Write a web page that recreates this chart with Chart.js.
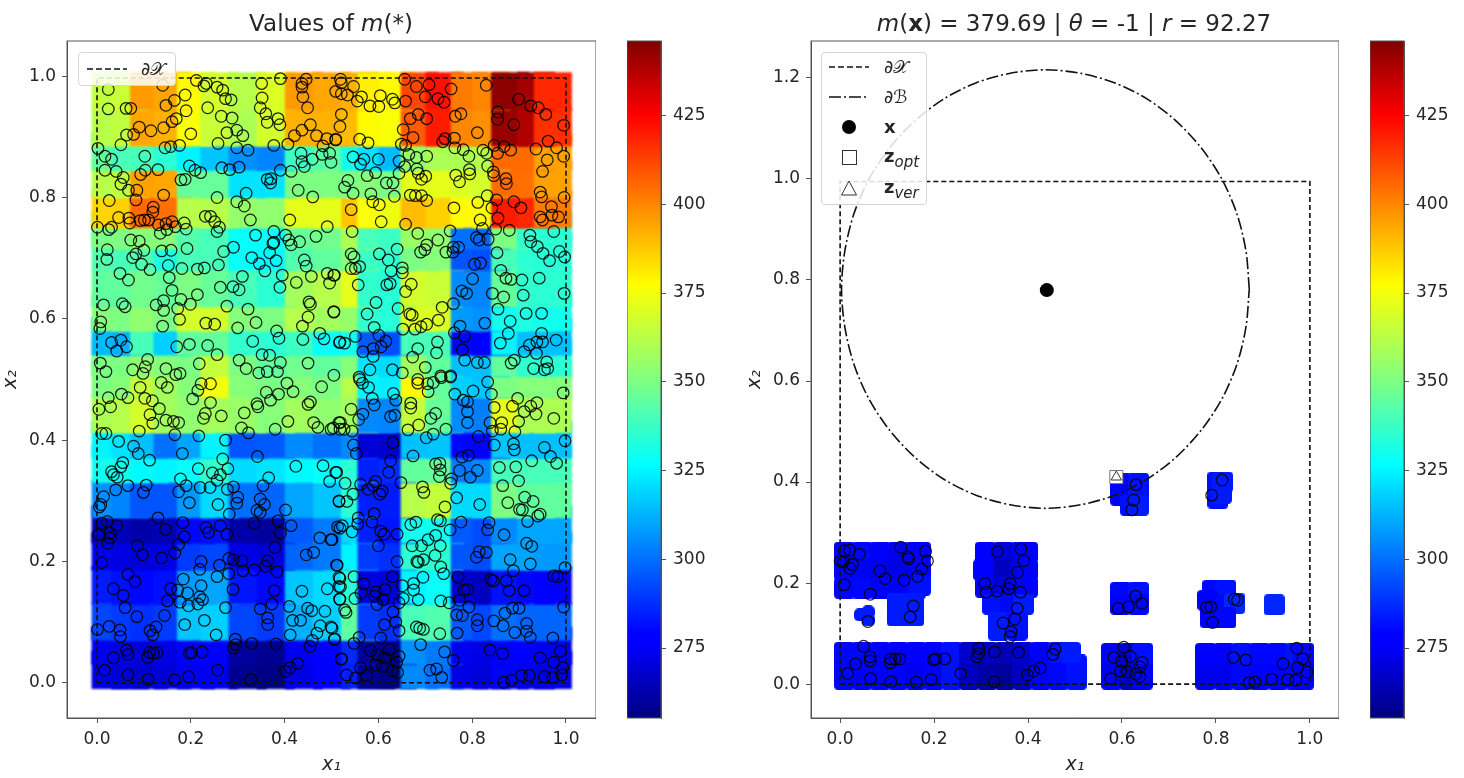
<!DOCTYPE html>
<html>
<head>
<meta charset="utf-8">
<title>Values of m(*)</title>
<script src="https://cdn.jsdelivr.net/npm/chart.js@4/dist/chart.umd.min.js"></script>
<style>
  html, body { margin: 0; background: #fff; overflow: hidden; }
  #page { position: relative; width: 1464px; height: 778px; filter: blur(0.45px); font-family: "DejaVu Sans", sans-serif; color: #262626; }
  canvas { position: absolute; }
  .title { position: absolute; top: 10px; font-size: 23px; white-space: nowrap; transform: translateX(-50%); }
  .legend { position: absolute; background: rgba(255,255,255,0.85); border: 1px solid #d5d5d5; border-radius: 4px; box-sizing: border-box; }
  .legend svg { position: absolute; left: 6px; }
  .legend span { position: absolute; left: 62px; font-size: 18px; white-space: nowrap; line-height: 20px; }
  .legend sub { font-size: 15px; font-style: italic; line-height: 0; }
</style>
</head>
<body>
<div id="page">
  <canvas id="leftPlot" width="596" height="778" style="left:0;top:0"></canvas>
  <canvas id="leftBar" width="94" height="778" style="left:627px;top:0"></canvas>
  <canvas id="rightPlot" width="595" height="778" style="left:744px;top:0"></canvas>
  <canvas id="rightBar" width="94" height="778" style="left:1370px;top:0"></canvas>

  <div class="title" style="left:331px">Values of <i>m</i>(*)</div>
  <div class="title" style="left:1074px"><i>m</i>(<b>x</b>) = 379.69 | <i>θ</i> = -1 | <i>r</i> = 92.27</div>

  <div class="legend" style="left:78px;top:52px;width:98px;height:34px">
    <svg width="44" height="32" style="top:0"><line x1="2" y1="16" x2="42" y2="16" stroke="#111" stroke-width="1.5" stroke-dasharray="6 3"/></svg>
    <span style="top:6px">∂𝒳</span>
  </div>
  <div class="legend" style="left:821px;top:52px;width:106px;height:153px">
    <svg width="44" height="150" style="top:0">
      <line x1="1" y1="14" x2="41" y2="14" stroke="#111" stroke-width="1.5" stroke-dasharray="6 3"/>
      <line x1="1" y1="44" x2="41" y2="44" stroke="#111" stroke-width="1.5" stroke-dasharray="12 3 2 3"/>
      <circle cx="21" cy="74" r="7" fill="#000"/>
      <rect x="14.500" y="97.500" width="14" height="14" fill="#fff" stroke="#333"/>
      <path d="M21 128 L28.500 142 L13.500 142 Z" fill="#fff" stroke="#333"/>
    </svg>
    <span style="top:4px">∂𝒳</span>
    <span style="top:34px">∂ℬ</span>
    <span style="top:64px"><b>x</b></span>
    <span style="top:93px"><b>z</b><sub>opt</sub></span>
    <span style="top:124px"><b>z</b><sub>ver</sub></span>
  </div>
</div>

<script>
// colorbar range and ticks
const colorMin = 255.3;
const colorMax = 446;
const colorTicks = [275, 300, 325, 350, 375, 400, 425];
const unitTicks = [0, 0.2, 0.4, 0.6, 0.8, 1];
const rightYTicks = [0, 0.2, 0.4, 0.6, 0.8, 1, 1.2];

// centres of the heat cells, painted left to right and bottom to top
const heatX = [0.029, 0.071, 0.111, 0.161, 0.211, 0.261, 0.321, 0.381, 0.441, 0.501, 0.561, 0.596, 0.641, 0.688, 0.741, 0.795, 0.841, 0.881, 0.936, 0.972];
const heatY = [0.021, 0.061, 0.101, 0.161, 0.217, 0.261, 0.303, 0.361, 0.401, 0.443, 0.501, 0.536, 0.571, 0.611, 0.651, 0.711, 0.746, 0.781, 0.831, 0.876, 0.916, 0.975];
// m(*), one line per heatY
const heatValues = [
  [272, 270, 268, 270, 274, 274, 258, 256, 272, 276, 285, 258, 256, 305, 300, 272, 270, 276, 274, 272],
  [274, 272, 270, 272, 276, 276, 260, 258, 274, 278, 287, 260, 258, 306, 302, 274, 272, 278, 276, 274],
  [292, 290, 288, 290, 316, 318, 292, 290, 312, 318, 345, 290, 288, 340, 342, 296, 292, 300, 298, 298],
  [284, 282, 280, 282, 308, 310, 283, 280, 316, 320, 335, 272, 270, 325, 328, 268, 266, 282, 280, 278],
  [274, 272, 270, 272, 290, 292, 272, 270, 298, 302, 325, 290, 288, 335, 335, 295, 293, 310, 310, 308],
  [266, 265, 262, 264, 280, 282, 262, 260, 296, 302, 320, 285, 283, 330, 330, 296, 293, 305, 310, 310],
  [306, 304, 295, 295, 308, 320, 300, 298, 310, 316, 335, 285, 284, 362, 365, 320, 320, 350, 345, 345],
  [330, 330, 326, 325, 328, 336, 320, 322, 326, 328, 335, 285, 287, 345, 346, 302, 305, 340, 340, 340],
  [325, 322, 315, 300, 310, 325, 295, 296, 305, 300, 305, 270, 268, 315, 316, 280, 278, 316, 315, 315],
  [360, 362, 368, 358, 354, 358, 356, 352, 358, 354, 358, 305, 304, 365, 346, 305, 303, 372, 360, 360],
  [350, 352, 365, 358, 352, 375, 352, 350, 352, 350, 362, 325, 324, 378, 345, 318, 316, 350, 352, 352],
  [350, 350, 354, 352, 350, 365, 350, 345, 348, 345, 352, 322, 320, 358, 345, 315, 315, 345, 336, 335],
  [314, 312, 340, 318, 345, 345, 336, 335, 338, 328, 330, 296, 294, 340, 340, 280, 278, 325, 315, 315],
  [352, 350, 354, 350, 368, 368, 352, 350, 362, 358, 355, 336, 334, 370, 370, 308, 306, 330, 332, 330],
  [345, 345, 348, 346, 350, 346, 340, 335, 358, 362, 372, 336, 334, 368, 366, 305, 304, 346, 336, 335],
  [342, 340, 342, 332, 340, 340, 328, 326, 342, 345, 352, 338, 336, 350, 352, 295, 294, 340, 335, 334],
  [350, 350, 352, 352, 342, 340, 328, 328, 346, 348, 360, 340, 338, 356, 354, 300, 298, 350, 336, 335],
  [385, 386, 405, 404, 362, 362, 355, 354, 372, 372, 388, 376, 374, 390, 386, 378, 376, 420, 418, 402],
  [362, 364, 395, 394, 346, 346, 322, 322, 350, 350, 350, 352, 350, 372, 372, 370, 368, 405, 404, 395],
  [345, 340, 340, 335, 325, 316, 306, 304, 338, 344, 330, 322, 314, 355, 360, 360, 362, 405, 405, 395],
  [362, 364, 394, 392, 376, 366, 360, 368, 392, 392, 390, 378, 376, 408, 420, 400, 398, 442, 438, 416],
  [364, 366, 396, 394, 378, 368, 362, 370, 396, 394, 392, 380, 378, 412, 422, 402, 400, 444, 440, 418],
];

// evaluated points, left panel
const samplePoints = [
  [.024,.978],[.024,.946],[.062,.947],[.072,.947],[.14,.985],[.212,.993],[.228,.984],[.233,.988],[.256,.982],[.268,.977],[.274,.963],[.286,.961],[.236,.948],[.188,.969],[.165,.96],[.147,.952],[.19,.943],[.169,.93],[.16,.925],[.142,.915],[.115,.91],[.09,.916],[.078,.904],[.063,.903],[.051,.887],[.2,.905],[.176,.886],[.157,.884],[.145,.882],[.265,.934],[.288,.931],[.277,.907],[.298,.911],[.311,.902],[.258,.889],[.298,.882],[.322,.878],[.351,.988],[.352,.964],[.348,.948],[.36,.938],[.363,.924],[.386,.93],[.39,.92],[.391,.996],[.446,.995],[.437,.988],[.437,.982],[.439,.966],[.449,.948],[.455,.92],[.437,.911],[.421,.902],[.468,.902],[.49,.897],[.509,.895],[.407,.888],[.377,.886],[.509,.975],[.519,.995],
  [.002,.881],[.017,.868],[.031,.863],[.102,.868],[.017,.845],[.041,.843],[.056,.833],[.051,.822],[.103,.845],[.093,.838],[.13,.846],[.067,.812],[.085,.812],[.083,.796],[.026,.795],[.142,.804],[.179,.829],[.188,.83],[.197,.852],[.209,.845],[.221,.841],[.266,.849],[.283,.846],[.303,.85],[.256,.8],[.318,.807],[.298,.793],[.314,.786],[.363,.83],[.371,.831],[.37,.824],[.391,.845],[.414,.843],[.435,.873],[.437,.859],[.442,.851],[.459,.863],[.482,.885],[.48,.871],[.496,.873],[.499,.858],[.429,.812],[.46,.801],
  [.12,.784],[.119,.776],[.11,.763],[.101,.763],[.092,.762],[.046,.767],[.068,.766],[.07,.758],[.131,.755],[.16,.76],[.147,.757],[.135,.741],[.149,.747],[.167,.752],[.186,.758],[.19,.748],[.001,.751],[.025,.747],[.031,.751],[.231,.769],[.242,.769],[.251,.76],[.261,.751],[.256,.744],[.327,.763],[.411,.763],[.491,.752],[.467,.736],[.338,.738],[.377,.744],[.377,.726],[.402,.738],[.409,.73],[.414,.722],[.432,.727],
  [.072,.73],[.09,.728],[.1,.713],[.083,.707],[.076,.701],[.022,.714],[.021,.698],[.095,.69],[.113,.681],[.138,.712],[.158,.713],[.192,.716],[.152,.688],[.181,.683],[.214,.682],[.229,.684],[.259,.689],[.27,.711],[.291,.718],[.33,.701],[.346,.691],[.358,.679],[.368,.709],[.375,.724],[.382,.696],[.442,.697],[.446,.687],[.049,.675],[.067,.664],[.154,.668],[.31,.67],[.395,.672],[.457,.67],[.491,.675],[.506,.672],[.496,.659],[.425,.66],[.39,.652],[.263,.652],[.29,.653],[.303,.648],[.16,.647],[.214,.64],[.179,.632],[.199,.624],[.142,.63],[.126,.623],[.142,.614],[.172,.617],[.176,.599],[.014,.623],[.054,.625],[.06,.62],[.008,.595],[.006,.584],[.14,.588],[.277,.621],[.322,.616],[.452,.628],[.455,.624],[.505,.612],[.45,.603],[.438,.588],[.339,.594],[.232,.593],[.251,.591],[.3,.585],
  [.383,.58],[.388,.568],[.332,.563],[.439,.566],[.475,.576],[.484,.567],[.031,.561],[.051,.565],[.042,.547],[.063,.554],[.17,.554],[.197,.558],[.236,.556],[.256,.541],[.517,.561],[.352,.541],[.368,.54],[.108,.533],[.103,.521],[.007,.527],[.019,.513],[.076,.516],[.098,.51],[.147,.518],[.168,.508],[.177,.51],[.218,.526],[.303,.532],[.318,.518],[.345,.511],[.363,.513],[.385,.513],[.391,.528],[.45,.527],[.505,.507],
  [.521,.989],[.534,.969],[.521,.971],[.547,.983],[.564,.966],[.555,.959],[.582,.951],[.601,.95],[.604,.968],[.63,.962],[.635,.956],[.658,.959],[.656,.995],[.681,.983],[.708,.986],[.7,.966],[.727,.963],[.74,.957],[.755,.979],[.83,.985],[.521,.937],[.518,.917],[.668,.93],[.685,.937],[.703,.93],[.764,.934],[.776,.938],[.653,.912],[.674,.899],[.811,.907],[.737,.892],[.742,.897],[.762,.898],[.509,.896],[.56,.896],[.578,.89],[.649,.888],[.658,.886],[.763,.882],[.781,.879],
  [.899,.962],[.925,.951],[.941,.948],[.957,.937],[.855,.941],[.854,.929],[.889,.92],[.995,.919],[.962,.893],[.98,.882],[.936,.88],[.847,.886],[.868,.884],[.882,.878],[.854,.873],[.995,.868],[.96,.862],[.95,.843],[.823,.878],[.831,.873],[.793,.868],[.833,.852],[.794,.846],[.795,.839],[.845,.842],[.846,.836],[.872,.831],[.873,.823],[.765,.837],[.773,.826],
  [.546,.867],[.569,.863],[.562,.855],[.6,.863],[.644,.86],[.665,.871],[.681,.866],[.703,.868],[.656,.851],[.682,.847],[.685,.84],[.701,.835],[.692,.83],[.644,.84],[.631,.824],[.617,.824],[.594,.841],[.576,.836],[.535,.828],[.528,.817],[.546,.807],[.584,.806],[.588,.793],[.602,.788],[.634,.802],[.668,.804],[.679,.803],[.692,.803],[.703,.795],[.542,.78],[.761,.783],[.606,.76],[.658,.756],[.684,.741],[.544,.744],
  [.832,.803],[.812,.792],[.842,.783],[.852,.796],[.889,.793],[.904,.783],[.945,.809],[.948,.801],[.996,.8],[.969,.785],[.945,.768],[.97,.771],[.984,.768],[.95,.763],[.855,.766],[.817,.763],[.822,.749],[.85,.748],[.879,.746],[.974,.744],[.923,.738],[.925,.727],[.939,.719],[.951,.708],[.965,.696],[.986,.711],[.997,.702],[.853,.709],
  [.753,.745],[.727,.73],[.703,.722],[.699,.714],[.69,.71],[.744,.71],[.759,.71],[.76,.718],[.771,.718],[.809,.734],[.815,.73],[.834,.731],[.64,.715],[.602,.707],[.621,.697],[.627,.679],[.651,.684],[.651,.676],[.818,.692],[.805,.69],[.801,.666],[.778,.646],[.788,.642],[.843,.642],[.867,.636],[.861,.68],[.872,.667],[.883,.665],[.906,.664],[.943,.667],[.909,.639],[.996,.642],
  [.542,.707],[.548,.702],[.542,.683],[.56,.686],[.551,.683],[.557,.656],[.625,.658],[.618,.656],[.505,.672],[.67,.657],[.658,.645],[.595,.627],[.576,.608],[.642,.617],[.736,.619],[.76,.625],[.667,.608],[.672,.606],[.728,.598],[.505,.611],[.915,.609],[.948,.609],[.855,.616],[.827,.593],[.881,.596],[.877,.576],[.774,.588],[.762,.577],[.784,.571],[.703,.591],[.691,.587],[.678,.583],[.652,.583],[.591,.586],
  [.601,.573],[.616,.563],[.606,.554],[.589,.551],[.589,.538],[.567,.546],[.551,.571],[.528,.56],[.518,.562],[.726,.562],[.684,.551],[.724,.544],[.673,.537],[.779,.549],[.784,.532],[.811,.528],[.826,.528],[.86,.56],[.911,.546],[.922,.557],[.938,.562],[.948,.576],[.95,.562],[.979,.565],[.937,.543],[.959,.529],[.89,.532],[.883,.527],[.931,.518],[.954,.516],[.961,.518],[.582,.516],[.63,.516],[.651,.511],[.7,.52],[.733,.506],[.754,.506],[.559,.504],[.684,.5],
  [.222,.493],[.242,.493],[.215,.482],[.204,.468],[.242,.462],[.137,.495],[.15,.487],[.092,.487],[.102,.469],[.118,.465],[.133,.452],[.052,.476],[.066,.47],[.024,.47],[.029,.455],[.004,.451],[.113,.442],[.119,.428],[.147,.433],[.163,.431],[.174,.429],[.231,.444],[.227,.436],[.265,.44],[.314,.445],[.308,.42],[.323,.412],[.09,.415],[.341,.46],[.343,.455],[.361,.479],[.387,.476],[.37,.466],[.405,.494],[.418,.48],[.479,.488],[.455,.463],[.45,.459],[.38,.418],[.407,.431],[.462,.429],[.471,.421],[.499,.418],[.516,.429],[.518,.418],
  [.01,.411],[.019,.411],[.046,.398],[.166,.409],[.217,.407],[.274,.4],[.078,.39],[.088,.378],[.112,.367],[.182,.378],[.055,.363],[.051,.356],[.031,.348],[.035,.343],[.043,.339],[.216,.353],[.268,.369],[.279,.353],[.246,.346],[.263,.343],[.256,.334],[.178,.336],[.342,.373],[.366,.338],[.424,.357],[.482,.358],[.509,.347],[.496,.332],
  [.066,.325],[.105,.326],[.099,.314],[.04,.318],[.014,.307],[.008,.294],[.005,.29],[.19,.325],[.174,.315],[.22,.322],[.241,.322],[.278,.319],[.291,.323],[.3,.306],[.298,.296],[.258,.294],[.197,.297],[.354,.325],[.348,.303],[.357,.294],[.341,.284],[.348,.281],[.402,.285],[.282,.278],[.516,.3],
  [.022,.266],[.01,.263],[.042,.259],[.13,.272],[.146,.253],[.183,.264],[.186,.241],[.174,.228],[.166,.214],[.003,.244],[.028,.247],[.028,.239],[.023,.23],[.086,.226],[.097,.211],[.138,.206],[.232,.256],[.238,.248],[.263,.259],[.277,.245],[.335,.263],[.386,.267],[.414,.259],[.391,.247],[.379,.223],[.475,.239],[.499,.236],[.462,.215],[.446,.211],[.518,.255],
  [.01,.198],[.222,.2],[.281,.205],[.261,.194],[.219,.187],[.291,.203],[.309,.201],[.364,.201],[.359,.192],[.311,.185],[.335,.186],[.281,.18],[.384,.183],[.256,.175],[.066,.179],[.081,.167],[.184,.171],[.511,.194],[.516,.174],
  [.035,.155],[.056,.144],[.157,.155],[.172,.153],[.193,.148],[.222,.16],[.219,.142],[.29,.154],[.378,.152],[.437,.151],[.491,.155],[.516,.159],[.518,.138],[.15,.135],[.177,.133],[.195,.127],[.215,.13],[.225,.137],[.06,.124],[.373,.13],[.348,.122],[.41,.126],[.274,.124],[.449,.123],[.458,.119],[.486,.118],[.085,.109],[.144,.111],[.364,.107],[.364,.096],[.417,.103],[.434,.103],[.229,.103],[.187,.096],[.026,.093],[.001,.088],[.049,.087],[.05,.076],[.126,.092],[.113,.086],[.119,.079],[.254,.079],[.476,.094],[.499,.092],[.469,.082],[.412,.079],
  [.295,.072],[.291,.057],[.296,.063],[.33,.065],[.382,.064],[.459,.07],[.454,.06],[.507,.072],[.063,.054],[.066,.047],[.035,.041],[.112,.05],[.108,.042],[.12,.049],[.128,.05],[.197,.049],[.202,.05],[.224,.051],[.521,.039],[.016,.021],[.066,.013],[.109,.006],[.165,.005],[.195,.01],[.257,.021],[.328,.005],[.402,.019],[.412,.025],[.428,.032],
  [.56,.5],[.566,.494],[.579,.487],[.587,.469],[.591,.458],[.632,.477],[.637,.466],[.626,.439],[.635,.441],[.567,.443],[.558,.434],[.542,.451],[.519,.429],[.544,.415],[.527,.418],[.504,.42],[.684,.494],[.705,.493],[.706,.48],[.717,.495],[.734,.503],[.754,.504],[.763,.476],[.669,.461],[.669,.453],[.712,.436],[.722,.444],[.686,.425],[.663,.417],[.744,.418],[.702,.404],[.717,.41],
  [.781,.466],[.79,.463],[.802,.481],[.79,.447],[.79,.429],[.833,.496],[.841,.476],[.847,.454],[.838,.429],[.843,.415],[.863,.429],[.861,.418],[.886,.456],[.897,.469],[.899,.431],[.891,.414],[.911,.447],[.925,.456],[.938,.462],[.936,.443],[.974,.436],[.994,.478],[.813,.406],[.847,.392],[.998,.399],
  [.631,.396],[.626,.366],[.622,.347],[.674,.374],[.547,.392],[.553,.378],[.511,.347],[.731,.362],[.722,.361],[.732,.351],[.73,.34],[.778,.372],[.792,.375],[.773,.35],[.811,.35],[.796,.339],[.756,.336],[.754,.329],[.858,.355],[.893,.356],[.89,.384],[.888,.394],[.954,.388],[.967,.373],[.98,.362],[.927,.366],
  [.899,.333],[.865,.325],[.648,.33],[.694,.323],[.697,.314],[.594,.332],[.589,.325],[.578,.319],[.562,.327],[.529,.329],[.608,.316],[.603,.311],[.546,.311],[.533,.299],[.516,.299],[.767,.305],[.742,.29],[.816,.294],[.876,.297],[.912,.306],[.93,.299],[.901,.286],[.907,.285],[.945,.278],[.94,.275],
  [.591,.279],[.586,.265],[.557,.272],[.556,.262],[.544,.249],[.523,.259],[.513,.257],[.501,.236],[.605,.25],[.612,.245],[.64,.245],[.6,.226],[.68,.265],[.669,.261],[.726,.269],[.732,.267],[.753,.252],[.776,.265],[.836,.264],[.833,.252],[.868,.244],[.918,.266],[.916,.23],[.927,.225],[.722,.243],[.706,.236],[.672,.226],[.692,.226],[.732,.226],[.721,.21],[.815,.216],[.83,.215],[.809,.207],[.881,.203],[.924,.196],
  [.64,.2],[.682,.2],[.685,.199],[.696,.203],[.512,.194],[.733,.191],[.739,.18],[.998,.19],[.888,.185],[.982,.175],[.974,.176],[.695,.174],[.77,.174],[.84,.17],[.845,.168],[.873,.168],[.548,.175],[.518,.172],[.519,.158],[.63,.175],[.569,.163],[.651,.16],[.675,.164],[.675,.153],[.614,.154],[.595,.15],[.592,.143],[.563,.148],[.55,.139],[.517,.138],[.61,.137],[.597,.129],[.653,.139],[.644,.132],[.685,.137],[.783,.153],[.79,.154],[.879,.152],[.911,.152],[.733,.135],[.751,.132],[.773,.136],[.793,.125],[.9,.123],[.995,.125],[.886,.123],[.87,.115],[.631,.117],[.528,.12],[.531,.116],[.767,.112],[.779,.111],
  [.811,.104],[.811,.094],[.846,.102],[.866,.094],[.916,.098],[.916,.085],[.891,.083],[.924,.075],[.613,.096],[.637,.1],[.644,.086],[.681,.092],[.688,.09],[.696,.088],[.731,.081],[.768,.082],[.501,.09],[.506,.072],
  [.559,.075],[.605,.074],[.548,.065],[.69,.063],[.623,.055],[.583,.053],[.598,.046],[.644,.044],[.614,.041],[.639,.034],[.562,.025],[.594,.03],[.609,.027],[.63,.02],[.641,.017],[.741,.051],[.838,.054],[.865,.048],[.76,.037],[.521,.04],[.972,.074],[.988,.052],[.945,.041],[.974,.034],[.993,.025],
  [.532,.013],[.551,.008],[.575,.012],[.71,.021],[.724,.023],[.735,.009],[.867,.001],[.884,.004],[.905,.012],[.922,.012],[.954,.01],[.972,.009],[.991,.013],
];

// evaluated points kept in the right panel
const keptPoints = [
  [.009,.264],[.02,.265],[.041,.257],[0,.244],[.007,.242],[.026,.237],[.021,.229],[.009,.197],[.064,.178],[.085,.224],[.096,.209],[.129,.271],[.144,.252],[.146,.248],[.182,.263],[.186,.244],[.174,.228],[.165,.213],[.136,.206],[.156,.155],[.149,.133],[.059,.124],
  [.335,.262],[.385,.267],[.391,.244],[.378,.221],[.362,.199],[.359,.189],[.308,.199],[.311,.182],[.334,.184],[.384,.182],[.377,.15],[.372,.129],[.347,.121],[.364,.104],[.362,.094],
  [.05,.075],[.064,.054],[.064,.046],[.033,.04],[.016,.021],[.065,.011],[.108,.005],[.162,.004],[.194,.009],[.108,.05],[.117,.05],[.107,.042],[.127,.05],[.199,.048],[.203,.05],[.223,.05],[.257,.021],[.295,.071],[.291,.054],[.295,.061],[.329,.064],[.38,.063],[.328,.005],[.458,.069],[.453,.059],[.399,.018],[.412,.026],[.426,.032],
  [.63,.395],[.625,.364],[.621,.345],[.813,.404],[.791,.374],[.629,.174],[.592,.15],[.614,.153],[.642,.16],[.839,.168],[.846,.166],[.78,.152],[.789,.153],[.793,.122],
  [.604,.073],[.583,.053],[.618,.055],[.643,.043],[.638,.034],[.599,.045],[.597,.026],[.611,.024],[.629,.02],[.638,.015],[.576,.011],
  [.837,.053],[.864,.048],[.871,.003],[.883,.004],[.919,.01],[.953,.009],[.97,.008],[.972,.071],[.985,.05],[.943,.04],[.974,.033],[.994,.024],
];

// grid cells left in the right panel: x, y, m
const blueCells = [
  [.009,.01,280],[.047,.01,278],[.085,.01,278],[.123,.01,276],[.161,.01,274],[.199,.01,276],[.237,.01,282],[.275,.01,266],[.313,.01,262],[.351,.01,260],[.389,.01,266],[.427,.01,278],[.465,.01,280],[.503,.01,282],
  [.009,.038,280],[.047,.038,278],[.085,.038,278],[.123,.038,276],[.161,.038,274],[.199,.038,276],[.237,.038,282],[.275,.038,266],[.313,.038,262],[.351,.038,260],[.389,.038,266],[.427,.038,278],[.465,.038,280],[.503,.038,282],
  [.009,.063,280],[.047,.063,280],[.085,.063,278],[.123,.063,278],[.161,.063,276],[.199,.063,278],[.237,.063,282],[.275,.063,268],[.313,.063,266],[.351,.063,264],[.389,.063,268],[.427,.063,278],[.465,.063,282],[.49,.063,284],
  [.009,.261,278],[.047,.261,280],[.085,.261,276],[.123,.261,274],[.161,.261,274],[.171,.261,278],
  [.009,.226,278],[.047,.226,278],[.085,.226,274],[.123,.226,272],[.161,.226,274],[.171,.226,276],
  [.009,.19,280],[.047,.19,280],[.085,.19,278],[.123,.19,276],[.161,.19,280],[.171,.196,282],
  [.122,.16,284],[.156,.16,284],[.122,.135,284],[.156,.135,284],
  [.309,.261,276],[.348,.261,270],[.386,.261,274],[.399,.261,278],
  [.305,.226,276],[.348,.226,266],[.386,.226,272],[.399,.226,276],
  [.309,.192,278],[.348,.192,270],[.386,.192,276],[.399,.192,278],
  [.325,.158,282],[.363,.158,280],[.39,.158,284],
  [.337,.123,284],[.377,.123,282],[.337,.107,284],[.377,.107,282],
  [.597,.398,280],[.635,.398,282],[.597,.374,278],[.635,.374,282],[.618,.354,282],[.635,.354,284],
  [.804,.4,282],[.814,.4,284],[.804,.368,282],[.812,.378,284],
  [.597,.182,280],[.635,.182,282],[.597,.158,278],[.635,.158,280],
  [.793,.186,280],[.821,.186,282],[.783,.166,278],[.821,.156,280],[.84,.16,286],[.789,.131,278],[.821,.131,280],
  [.924,.157,286],
  [.578,.01,276],[.616,.01,266],[.644,.01,278],[.578,.038,274],[.616,.038,264],[.644,.038,278],[.578,.061,276],[.616,.061,268],[.644,.061,282],
  [.778,.01,274],[.817,.01,274],[.855,.01,280],[.893,.01,278],[.932,.01,278],[.97,.01,280],[.987,.01,278],
  [.778,.038,274],[.817,.038,274],[.855,.038,280],[.893,.038,278],[.932,.038,278],[.97,.038,280],[.987,.038,278],
  [.778,.061,276],[.817,.061,276],[.855,.061,282],[.893,.061,280],[.932,.061,280],[.97,.061,282],[.987,.061,280],
];
const smallCells = [[.043,.137,284],[.06,.143,284],[.06,.127,284]];

// domain outline in each panel and the ball around x
const leftDomain = [[0,0],[1,0],[1,.997],[0,.997],[0,0]];
const rightDomain = [[0,0],[1,0],[1,.995],[0,.995],[0,0]];
const ballOutline = [[.871,.782],[.864,.857],[.845,.93],[.813,.999],[.769,1.061],[.716,1.114],[.654,1.158],[.585,1.19],[.512,1.209],[.437,1.216],[.362,1.209],[.289,1.19],[.22,1.158],[.158,1.114],[.105,1.061],[.061,.999],[.029,.93],[.01,.857],[.003,.782],[.01,.707],[.029,.634],[.061,.565],[.105,.503],[.158,.45],[.22,.406],[.289,.374],[.362,.355],[.437,.348],[.512,.355],[.585,.374],[.654,.406],[.716,.45],[.769,.503],[.813,.565],[.845,.634],[.864,.707],[.871,.782]];
const centerPoint = [[.44,.78]];
const optPoint = [[.588,.41]];
const verPoint = [[.588,.41]];

const fontFamily = '"DejaVu Sans", sans-serif';
const tickColor = "#262626";
const frameColor = "#555555";

// jet colormap
const jetStops = [
  [0, [0, 0, 128]], [0.11, [0, 0, 255]], [0.125, [0, 0, 255]], [0.375, [0, 255, 255]],
  [0.5, [128, 255, 128]], [0.64, [255, 255, 0]], [0.89, [255, 0, 0]], [1, [128, 0, 0]],
];
function jet(t) {
  t = Math.min(1, Math.max(0, t));
  for (let i = 1; i < jetStops.length; i++) {
    if (t <= jetStops[i][0]) {
      const a = jetStops[i - 1], b = jetStops[i];
      const f = (t - a[0]) / (b[0] - a[0]);
      const c = a[1].map((v, k) => Math.round(v + (b[1][k] - v) * f));
      return "rgb(" + c.join(",") + ")";
    }
  }
  return "rgb(128,0,0)";
}
const valueColor = v => jet((v - colorMin) / (colorMax - colorMin));
const toXY = list => list.map(p => ({ x: p[0], y: p[1] }));

const framePlugin = {
  id: "frame",
  beforeDatasetDraw(chart, args) {
    const soft = chart.data.datasets[args.index].softEdge;
    if (soft) chart.ctx.filter = "blur(" + soft + "px)";
  },
  afterDatasetDraw(chart) {
    chart.ctx.filter = "none";
  },
  afterDraw(chart) {
    const a = chart.chartArea, ctx = chart.ctx;
    ctx.save();
    ctx.strokeStyle = frameColor;
    ctx.lineWidth = 1;
    ctx.strokeRect(a.left, a.top, a.right - a.left, a.bottom - a.top);
    ctx.restore();
  },
};

// rounded square marker, the corners are tighter than the built in rectRounded
function blobMarker(color, side, corner) {
  const c = document.createElement("canvas");
  c.width = side;
  c.height = side;
  const g = c.getContext("2d");
  g.fillStyle = color;
  g.beginPath();
  g.roundRect(0, 0, side, side, corner);
  g.fill();
  return c;
}
function cellData(cells, side, corner) {
  return {
    data: toXY(cells),
    pointStyle: cells.map(c => blobMarker(valueColor(c[2]), side, corner)),
    pointRadius: side / 2,
    pointBorderWidth: 0,
    showLine: false,
  };
}
function outline(points, dash) {
  return { data: toXY(points), showLine: true, pointRadius: 0, borderColor: "#111", borderWidth: 1.6, borderDash: dash, fill: false };
}
function rings(points) {
  return { data: toXY(points), showLine: false, pointStyle: "circle", pointRadius: 5.8, pointBorderWidth: 1.25, pointBackgroundColor: "rgba(0,0,0,0)", pointBorderColor: "rgba(0,0,0,0.85)" };
}

function axis(min, max, tickValues, label, titlePad, fitSize) {
  return {
    type: "linear", min: min, max: max,
    grid: { drawOnChartArea: false, drawTicks: true, tickLength: 5, color: frameColor },
    border: { color: frameColor },
    afterBuildTicks: s => { s.ticks = tickValues.map(v => ({ value: v })); },
    afterFit: s => {
      if (s.isHorizontal()) s.height = fitSize; else s.width = fitSize;
      s.paddingLeft = s.paddingRight = s.paddingTop = s.paddingBottom = 0;
    },
    ticks: { color: tickColor, padding: 6, maxRotation: 0, autoSkip: false, font: { family: fontFamily, size: 17 }, callback: v => v.toFixed(1) },
    title: { display: true, text: label, color: tickColor, padding: titlePad, font: { family: fontFamily, size: 19, style: "italic" } },
  };
}

function drawPanel(id, datasets, yMin, yMax, yTicks, xMin, xMax) {
  new Chart(document.getElementById(id), {
    type: "scatter",
    data: { datasets: datasets },
    plugins: [framePlugin],
    options: {
      responsive: false, animation: false, events: [], devicePixelRatio: 1,
      layout: { autoPadding: false, padding: { top: 41, left: 0, right: 0, bottom: 0 } },
      plugins: { legend: { display: false }, tooltip: { enabled: false } },
      scales: {
        x: axis(xMin, xMax, unitTicks, "x₁", { top: 0, bottom: 2 }, 60),
        y: axis(yMin, yMax, yTicks, "x₂", { top: 0, bottom: 4 }, 67),
      },
    },
  });
}

function drawColorbar(id) {
  new Chart(document.getElementById(id), {
    type: "bar",
    data: {
      labels: ["m"],
      datasets: [{
        data: [[colorMin, colorMax]],
        barPercentage: 1, categoryPercentage: 1, borderWidth: 0, borderSkipped: false,
        backgroundColor: c => {
          const a = c.chart.chartArea;
          if (!a) return "#00f";
          const g = c.chart.ctx.createLinearGradient(0, a.bottom, 0, a.top);
          jetStops.forEach(s => g.addColorStop(s[0], jet(s[0])));
          return g;
        },
      }],
    },
    plugins: [framePlugin],
    options: {
      responsive: false, animation: false, events: [], devicePixelRatio: 1,
      layout: { autoPadding: false, padding: { top: 41, bottom: 60, left: 0, right: 0 } },
      plugins: { legend: { display: false }, tooltip: { enabled: false } },
      scales: {
        x: { display: false },
        y: {
          position: "right", min: colorMin, max: colorMax,
          grid: { drawOnChartArea: false, tickLength: 5, color: frameColor },
          border: { color: frameColor },
          afterBuildTicks: s => { s.ticks = colorTicks.map(v => ({ value: v })); },
          afterFit: s => { s.width = 60; s.paddingTop = s.paddingBottom = 0; },
          ticks: { color: tickColor, padding: 7, font: { family: fontFamily, size: 17 } },
        },
      },
    },
  });
}

// heat cells in paint order, so every cell covers the overlap of the one before
const heatCells = [];
heatY.forEach((y, r) => heatX.forEach((x, c) => heatCells.push([x, y, heatValues[r][c]])));

drawPanel("leftPlot", [
  rings(samplePoints),
  { order: 1, ...outline(leftDomain, [5, 3]) },
  {
    order: 2,
    data: toXY(heatCells),
    pointStyle: "rect",
    pointRadius: 26.9,
    pointBorderWidth: 0,
    pointBackgroundColor: heatCells.map(c => valueColor(c[2])),
    showLine: false,
    softEdge: 1.3,
  },
], -0.058, 1.058, unitTicks, -0.064, 1.064);

drawPanel("rightPlot", [
  { data: toXY(centerPoint), pointStyle: "circle", pointRadius: 7, pointBackgroundColor: "#000", pointBorderWidth: 0, showLine: false },
  { data: toXY(verPoint), pointStyle: "triangle", pointRadius: 6, pointBackgroundColor: "#fff", pointBorderColor: "#333", pointBorderWidth: 1, showLine: false },
  { order: 1, data: toXY(optPoint), pointStyle: "rect", pointRadius: 9.2, pointBackgroundColor: "#fff", pointBorderColor: "#777", pointBorderWidth: 1, showLine: false },
  { order: 2, ...outline(ballOutline, [12, 3, 2, 3]), tension: 0.3 },
  { order: 2, ...outline(rightDomain, [5, 3]) },
  { order: 3, ...rings(keptPoints) },
  { order: 4, ...cellData(smallCells, 13, 5) },
  { order: 4, ...cellData(blueCells, 21, 4) },
], -0.067, 1.273, rightYTicks, -0.062, 1.062);

drawColorbar("leftBar");
drawColorbar("rightBar");
</script>
</body>
</html>
